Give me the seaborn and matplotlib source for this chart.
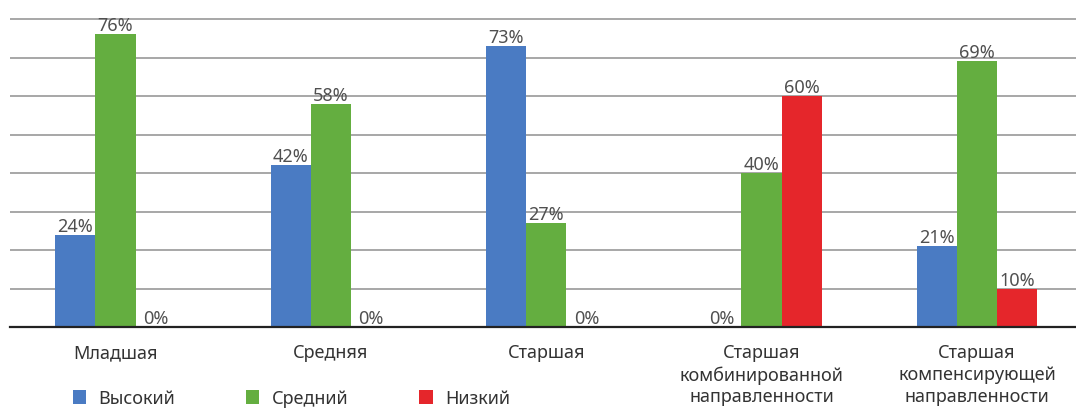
import pandas as pd
import matplotlib.pyplot as plt
import seaborn as sns

# Data
groups = ["Младшая", "Средняя", "Старшая",
          "Старшая\nкомбинированной\nнаправленности",
          "Старшая\nкомпенсирующей\nнаправленности"]
levels = ["Высокий", "Средний", "Низкий"]
high = [24, 42, 73, 0, 21]
mid = [76, 58, 27, 40, 69]
low = [0, 0, 0, 60, 10]
colors = ["#4A7BC3", "#64AE40", "#E5262B"]

df = pd.DataFrame({
    "group": groups * 3,
    "level": [levels[0]] * 5 + [levels[1]] * 5 + [levels[2]] * 5,
    "value": high + mid + low,
})

sns.set_style("white")
plt.rcParams["font.family"] = ["Noto Sans", "DejaVu Sans"]

fig = plt.figure(figsize=(10.76, 4.10), dpi=100)
ax = fig.add_axes([10 / 1076, 82 / 410, 1066 / 1076, 328 / 410])

sns.barplot(data=df, x="group", y="value", hue="level", palette=colors,
            width=0.56, gap=0, saturation=1, linewidth=0, ax=ax, legend=True)

for c in ax.containers:
    ax.bar_label(c, fmt="%g%%", padding=0, fontsize=13, color="#505050")

ax.set_ylim(0, 85.2)
ax.set_xlim(-0.49, 4.46)
ax.set_yticks(range(10, 90, 10))
ax.yaxis.grid(True, color="#A0A0A0", linewidth=1.3)
ax.set_axisbelow(True)
ax.tick_params(axis="y", left=False, labelleft=False)
ax.tick_params(axis="x", bottom=False, pad=8, labelsize=13, labelcolor="#333333")
for lab in ax.get_xticklabels():
    lab.set_linespacing(1.28)
    lab.set_verticalalignment("top")
ax.set_xlabel("")
ax.set_ylabel("")
for side in ["top", "right", "left"]:
    ax.spines[side].set_visible(False)
ax.spines["bottom"].set_color("#222222")
ax.spines["bottom"].set_linewidth(1.6)

handles, labels = ax.get_legend_handles_labels()
ax.legend_.remove()
fig.legend(handles, labels, loc="center left", bbox_to_anchor=(0.059, 0.026),
           ncol=3, frameon=False, fontsize=13, handlelength=0.75,
           handleheight=0.75, handletextpad=0.7, columnspacing=3.9,
           borderpad=0, labelcolor="#333333")

fig.savefig("out.png", dpi=100)
